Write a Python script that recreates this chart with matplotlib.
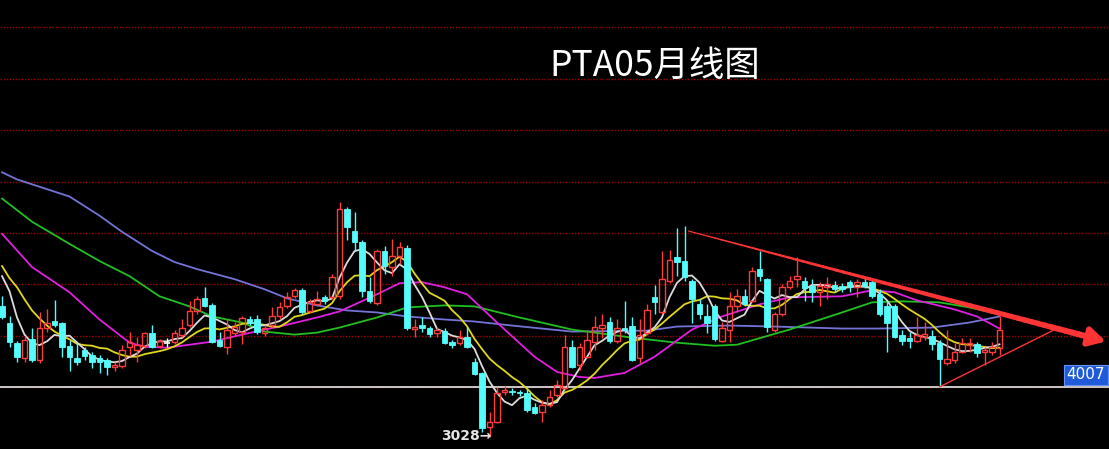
import numpy as np
import pandas as pd
import matplotlib
matplotlib.use('Agg')
import matplotlib.pyplot as plt
from matplotlib.collections import LineCollection
from matplotlib import transforms

plt.rcParams['font.family'] = ['Noto Sans CJK SC', 'DejaVu Sans']

# PTA 月线 K 线 (开 / 高 / 低 / 收)
opens = [5573, 5259, 4867, 4573, 4946, 4534, 5161, 5298, 5259, 4808,
         4573, 4730, 4632, 4573, 4534, 4397, 4416, 4789, 4730, 4808,
         5063, 4808, 4867, 4887, 5024, 5220, 5475, 5730, 5592, 4926,
         4789, 5063, 5083, 5318, 5318, 5063, 5220, 5377, 5573, 5769,
         5886, 5475, 5612, 5749, 5749, 5769, 7474, 7043, 6827, 5867,
         5632, 6651, 6337, 6553, 6710, 5142, 5220, 5161, 5063, 5102,
         4887, 4867, 4985, 4495, 4279, 3221, 3319, 3907, 3926, 3907,
         3887, 3613, 3515, 3652, 3848, 3985, 4789, 4436, 4593, 4887,
         5161, 5279, 4906, 5161, 5200, 4573, 5063, 5749, 5455, 6063,
         6533, 6455, 6063, 5612, 5377, 5573, 4906, 5122, 5573, 5769,
         5671, 6298, 6102, 5122, 5416, 5945, 6102, 6063, 5965, 5847,
         5945, 5984, 5965, 6043, 5945, 6043, 6043, 5808, 5573, 5573,
         5024, 4965, 4906, 4985, 5004, 4867, 4475, 4534, 4691, 4828,
         4848, 4691, 4691, 4769]
closes = [5357, 4887, 4593, 4926, 4534, 5161, 5259, 5220, 4789, 4593,
          4495, 4612, 4495, 4495, 4397, 4436, 4730, 4887, 4828, 5063,
          4789, 4906, 4867, 5063, 5161, 5475, 5710, 5573, 4887, 4808,
          5122, 5181, 5338, 5259, 5083, 5161, 5377, 5553, 5749, 5886,
          5455, 5651, 5710, 5671, 6141, 7474, 7121, 6827, 5867, 5671,
          6651, 6357, 6553, 6729, 5161, 5181, 5161, 5044, 5122, 4867,
          4828, 4985, 4789, 4260, 3201, 3319, 3887, 3946, 3907, 3887,
          3554, 3495, 3652, 3809, 4044, 4789, 4397, 4789, 4926, 5181,
          5220, 4906, 5161, 5122, 4534, 5024, 5494, 5651, 6102, 6474,
          6435, 6141, 5710, 5416, 5259, 4946, 5161, 5573, 5769, 5612,
          6259, 6161, 5181, 5416, 5945, 6063, 6161, 5926, 5847, 5965,
          6004, 5906, 5906, 5945, 6043, 5965, 5769, 5416, 5259, 4985,
          4906, 4906, 5024, 5044, 4848, 4554, 4554, 4691, 4867, 4867,
          4671, 4730, 4789, 5122]
highs = [5769, 5377, 4906, 5004, 5161, 5455, 5514, 5690, 5279, 4926,
         4867, 4789, 4691, 4632, 4573, 4495, 4828, 5083, 4985, 5083,
         5220, 4946, 4965, 5122, 5318, 5671, 5769, 5945, 5632, 5083,
         5318, 5279, 5377, 5377, 5396, 5220, 5553, 5651, 5847, 5926,
         5926, 5710, 5867, 5788, 6200, 7611, 7513, 7415, 6866, 6141,
         6690, 6749, 6886, 6827, 6768, 5318, 5357, 5200, 5181, 5161,
         4926, 5122, 5181, 4573, 4299, 3515, 4005, 4024, 3985, 3946,
         3966, 3691, 3750, 3946, 4142, 5024, 4926, 4867, 5122, 5377,
         5416, 5357, 5318, 5671, 5357, 5318, 5612, 5984, 6651, 6670,
         7102, 7141, 6102, 5710, 5612, 5612, 5279, 5847, 5906, 5906,
         6337, 6651, 6122, 5455, 6004, 6161, 6533, 6141, 6102, 6043,
         6141, 6063, 6024, 6082, 6102, 6141, 6102, 5906, 5651, 5612,
         5122, 5083, 5357, 5279, 5122, 4926, 5122, 4867, 4965, 4965,
         4887, 4789, 4887, 5377]
lows = [5318, 4789, 4495, 4495, 4495, 4475, 5083, 5181, 4593, 4318,
        4436, 4534, 4377, 4279, 4240, 4318, 4377, 4612, 4495, 4769,
        4769, 4769, 4789, 4848, 4985, 5181, 5416, 5553, 4867, 4789,
        4652, 5004, 4848, 5220, 5044, 5004, 5181, 5318, 5534, 5730,
        5416, 5436, 5573, 5612, 5710, 5710, 6866, 6651, 5749, 5632,
        5592, 6200, 6161, 6396, 5122, 4985, 5083, 4985, 4985, 4848,
        4769, 4828, 4769, 4240, 3123, 3028, 3299, 3848, 3848, 3828,
        3515, 3476, 3319, 3613, 3809, 3946, 4377, 4338, 4573, 4730,
        4965, 4867, 4867, 5063, 4514, 4475, 5024, 5416, 5416, 6024,
        6161, 6063, 5259, 5318, 5063, 4906, 4887, 4887, 5455, 5573,
        5651, 6063, 5083, 5083, 5377, 5906, 5945, 5671, 5651, 5573,
        5710, 5847, 5847, 5847, 5749, 5926, 5730, 5377, 4691, 4965,
        4828, 4769, 4887, 4926, 4730, 4007, 4436, 4475, 4671, 4691,
        4593, 4436, 4632, 4632]

# 图左端短均线的起始值 (窗口未满之前，读图)
ma5_head = [6161, 5867, 5357, 5024]
ma10_head = [6357, 6122, 5945, 5710, 5494, 5338, 5200, 5083, 5004]

# 长周期均线 (读图取点)
ma20_idx = [0, 4, 9, 13, 17, 19, 22, 25, 28, 32, 35, 37, 42, 45, 50, 53, 56, 59, 62,
            66, 71, 74, 77, 79, 83, 87, 92, 96, 101, 105, 112, 116, 119, 122, 127, 130, 133]
ma20_val = [6984, 6337, 5847, 5318, 4867, 4789, 4769, 4828, 4887, 5024, 5122, 5181, 5357,
            5475, 5808, 6024, 6043, 5945, 5808, 5259, 4593, 4299, 4201, 4181, 4279, 4593,
            5122, 5377, 5612, 5749, 5769, 5886, 5847, 5690, 5514, 5377, 5142]
ma40_idx = [0, 4, 9, 13, 17, 21, 25, 28, 32, 35, 39, 42, 45, 50, 54, 59, 63, 69, 76,
            80, 84, 90, 95, 98, 105, 112, 116, 120, 125, 129, 133]
ma40_val = [7670, 7219, 6788, 6455, 6161, 5769, 5573, 5377, 5259, 5083, 5024, 5063, 5161,
            5357, 5553, 5592, 5573, 5357, 5122, 5044, 4965, 4867, 4808, 4828, 5122, 5455,
            5651, 5671, 5651, 5553, 5416]
ma60_idx = [0, 2, 9, 13, 16, 20, 23, 26, 31, 35, 38, 42, 46, 50, 54, 59, 63, 68, 76,
            86, 90, 97, 103, 112, 117, 124, 129, 133]
ma60_val = [8180, 8042, 7709, 7337, 7023, 6651, 6435, 6298, 6102, 5906, 5730, 5592, 5494,
            5455, 5377, 5318, 5279, 5200, 5083, 5102, 5181, 5200, 5181, 5142, 5142, 5161,
            5259, 5377]

low_label = 3028
line_label = 4007

UP = '#ff3c3c'
DOWN = '#54fcfc'

fig = plt.figure(figsize=(11.09, 4.49), dpi=100, facecolor='black')
ax = fig.add_axes([0, 0, 1, 1])
ax.set_facecolor('black')
ax.set_xlim(-0.27, 147.6)
ax.set_ylim(2800, 11530)
ax.set_axis_off()

# 网格线
for lvl in range(4000, 12000, 1000):
    ax.axhline(lvl, color='#a00000', lw=1.0, ls=(0, (1, 1.2)), zorder=1)
ax.axhline(line_label, color='#d8d8d8', lw=1.3, zorder=2)

df = pd.DataFrame({'o': opens, 'h': highs, 'l': lows, 'c': closes})
xs = np.arange(len(df))

# 均线：MA5 / MA10 由收盘价计算，窗口未满的部分用读图值
ma5 = df['c'].rolling(5).mean()
ma5.iloc[:len(ma5_head)] = ma5_head
ma10 = df['c'].rolling(10).mean()
ma10.iloc[:len(ma10_head)] = ma10_head
ax.plot(ma60_idx, ma60_val, color='#7474d8', lw=1.3, zorder=3)
ax.plot(ma40_idx, ma40_val, color='#20c020', lw=1.3, zorder=3)
ax.plot(ma20_idx, ma20_val, color='#e020e0', lw=1.3, zorder=3)
ax.plot(xs, ma10, color='#e0d818', lw=1.3, zorder=3)
ax.plot(xs, ma5, color='#dcdcdc', lw=1.3, zorder=3)

# K 线
w = 0.72
for i, r in df.iterrows():
    o, h, l, c = r['o'], r['h'], r['l'], r['c']
    top, bot = max(o, c), min(o, c)
    if c > o:
        ax.vlines(i, top, h, color=UP, lw=1, zorder=4)
        ax.vlines(i, l, bot, color=UP, lw=1, zorder=4)
        ax.bar(i, top - bot, w, bot, facecolor='none', edgecolor=UP, lw=1, zorder=5)
    elif c < o:
        ax.vlines(i, l, h, color=DOWN, lw=1, zorder=4)
        ax.bar(i, top - bot, w, bot, color=DOWN, edgecolor=DOWN, lw=0.6, zorder=5)
    else:
        ax.vlines(i, l, h, color='white', lw=1, zorder=4)
        ax.hlines(c, i - w / 2, i + w / 2, color='white', lw=1.2, zorder=5)

# 下降趋势线 (渐粗) + 箭头
p0 = np.array([91.5, 7039])
p1 = np.array([147.2, 4890])
ts = np.linspace(0, 0.95, 60)
pts = p0 + np.outer(ts, p1 - p0)
segs = np.stack([pts[:-1], pts[1:]], axis=1)
lc = LineCollection(segs, colors='#ff3434', linewidths=0.8 + 3.8 * ts[:-1], zorder=6,
                    capstyle='round')
ax.add_collection(lc)
ax.annotate('', xy=tuple(p1), xytext=tuple(pts[-1]),
            arrowprops=dict(arrowstyle='-|>,head_length=1.0,head_width=0.55',
                            color='#ff3434', lw=4, shrinkA=0, shrinkB=0,
                            mutation_scale=10), zorder=6)

# 上升支撑线
ax.plot([125, 140.8], [line_label, 5154], color='#ff3434', lw=1, zorder=6)

# 标注
ax.text(65.2, low_label + 20, f'{low_label}→', ha='right', va='center',
        color='#e6e6e6', fontsize=10, fontweight='bold', family='DejaVu Sans', zorder=7)
trans = transforms.blended_transform_factory(ax.transAxes, ax.transData)
ax.text(0.9965, line_label + 90, str(line_label), transform=trans, ha='right', va='bottom',
        color='white', fontsize=11, family='DejaVu Sans', zorder=7,
        bbox=dict(boxstyle='square,pad=0.18', fc='#1f5ad8', ec='#6a92ff', lw=0.8))

fig.text(0.5906, 0.853, 'PTA05月线图', ha='center', va='center', fontsize=25.5, color='white')

fig.savefig('out.png', dpi=100, facecolor='black')
